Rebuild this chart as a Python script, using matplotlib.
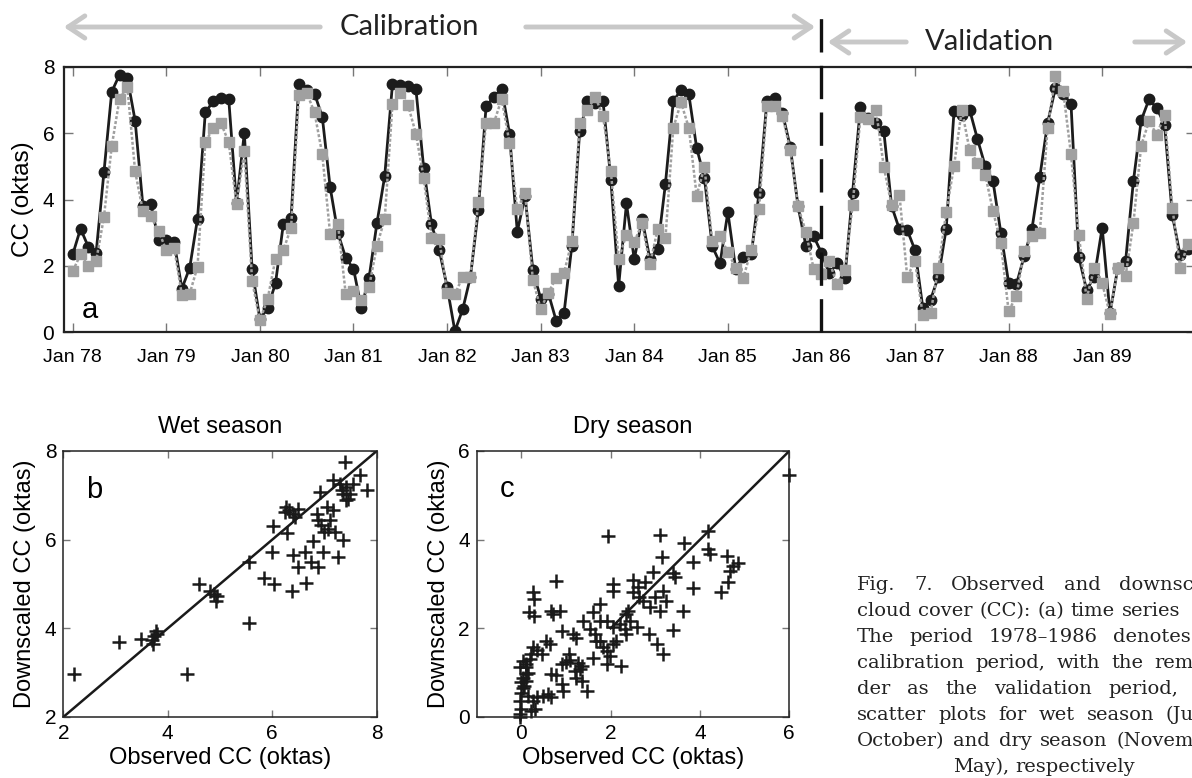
import numpy as np
import matplotlib
matplotlib.use('Agg')
import matplotlib.pyplot as plt
from matplotlib.patches import FancyArrowPatch
from matplotlib.transforms import blended_transform_factory

plt.rcParams['font.family'] = ['Liberation Sans', 'DejaVu Sans']

# monthly cloud cover, Jan 1978 .. Dec 1989
obs_cc = [2.34, 3.12, 2.57, 2.39, 4.82, 7.25, 7.77, 7.67, 6.38, 3.80, 3.87, 2.79,
          2.79, 2.71, 1.31, 1.94, 3.42, 6.63, 6.96, 7.07, 7.04, 3.88, 6.01, 1.89,
          0.38, 0.73, 1.47, 3.25, 3.45, 7.50, 7.32, 7.20, 6.49, 4.38, 2.99, 2.24,
          1.91, 0.73, 1.64, 3.28, 4.70, 7.49, 7.47, 7.44, 7.34, 4.95, 3.25, 2.47,
          1.37, 0.03, 0.68, 1.67, 3.67, 6.81, 7.10, 7.34, 5.99, 3.03, 4.10, 1.87,
          1.01, 1.16, 0.33, 0.58, 2.61, 6.06, 6.96, 6.91, 6.96, 4.60, 1.39, 3.88,
          2.19, 3.42, 2.21, 2.51, 4.48, 6.96, 7.32, 7.17, 5.56, 4.65, 2.59, 2.07,
          3.62, 1.91, 2.27, 2.34, 4.20, 6.96, 7.07, 6.61, 5.59, 3.80, 2.61, 2.89,
          2.39, 1.77, 2.07, 1.64, 4.20, 6.79, 6.46, 6.31, 6.06, 3.80, 3.10, 3.08,
          2.47, 0.73, 0.98, 1.67, 3.12, 6.66, 6.56, 6.71, 5.83, 5.01, 4.55, 3.00,
          1.49, 1.44, 2.29, 3.12, 4.68, 6.31, 7.37, 7.19, 6.89, 2.27, 1.27, 1.67,
          3.15, 0.56, 1.94, 2.14, 4.55, 6.39, 7.02, 6.76, 6.26, 3.52, 2.31, 2.50]
down_cc = [1.84, 2.34, 1.99, 2.14, 3.47, 5.61, 7.04, 7.40, 4.85, 3.65, 3.50, 3.05,
           2.47, 2.54, 1.11, 1.16, 1.97, 5.73, 6.16, 6.31, 5.73, 3.85, 5.46, 1.54,
           0.35, 1.01, 2.21, 2.47, 3.15, 7.14, 7.22, 6.63, 5.36, 2.97, 3.27, 1.16,
           1.24, 0.98, 1.36, 2.61, 3.40, 6.89, 7.22, 6.84, 5.99, 4.65, 2.84, 2.81,
           1.19, 1.14, 1.67, 1.67, 3.92, 6.31, 6.31, 7.04, 5.71, 3.70, 4.20, 1.57,
           0.70, 1.19, 1.64, 1.79, 2.74, 6.31, 6.71, 7.10, 6.51, 4.85, 2.21, 2.94,
           2.71, 3.28, 2.04, 3.10, 2.84, 6.16, 6.93, 6.16, 4.12, 4.98, 2.74, 2.89,
           2.41, 1.94, 1.64, 2.49, 3.72, 6.81, 6.81, 6.53, 5.49, 3.80, 3.02, 1.91,
           1.74, 2.14, 1.44, 1.87, 3.82, 6.49, 6.43, 6.71, 4.98, 3.82, 4.15, 1.67,
           2.14, 0.50, 0.58, 1.94, 3.62, 5.01, 6.71, 5.49, 5.11, 4.75, 3.65, 2.69,
           0.63, 1.09, 2.44, 2.89, 3.00, 6.16, 7.72, 7.27, 5.36, 2.94, 1.01, 1.94,
           1.47, 0.53, 1.94, 1.69, 3.28, 5.63, 6.36, 5.96, 6.56, 3.75, 1.94, 2.67]
year_labels = ['Jan 78', 'Jan 79', 'Jan 80', 'Jan 81', 'Jan 82', 'Jan 83',
               'Jan 84', 'Jan 85', 'Jan 86', 'Jan 87', 'Jan 88', 'Jan 89']
split_month = 96  # Jan 86

wet_obs = [2.21, 3.07, 3.48, 3.69, 3.73, 3.77, 3.80, 3.71, 4.36, 4.60, 4.81, 4.89,
           4.95, 4.93, 5.55, 5.56, 5.85, 6.00, 6.04, 6.01, 6.28, 6.38, 6.39, 6.49,
           6.64, 6.62, 6.75, 6.88, 6.78, 6.97, 7.26, 7.36, 6.24, 6.33, 6.40, 6.49,
           6.27, 6.43, 6.85, 6.91, 6.88, 6.94, 6.99, 7.07, 7.10, 7.17, 7.04, 7.20,
           7.17, 7.39, 7.42, 7.49, 7.36, 7.55, 7.46, 7.68, 7.81, 7.33, 7.42, 7.30]
wet_down = [2.96, 3.69, 3.77, 3.73, 3.82, 3.94, 3.88, 3.65, 2.96, 5.01, 4.84, 4.78,
            4.72, 4.62, 4.11, 5.50, 5.14, 5.72, 4.99, 6.30, 6.14, 4.84, 5.65, 5.38,
            5.02, 5.72, 5.50, 5.38, 5.98, 5.72, 5.61, 6.00, 6.62, 6.66, 6.59, 6.70,
            6.74, 6.51, 6.59, 7.08, 6.44, 6.32, 6.17, 6.25, 6.44, 6.66, 6.74, 6.17,
            7.34, 7.75, 7.19, 7.04, 7.04, 7.26, 6.92, 7.45, 7.11, 7.11, 6.89, 7.26]

dry_obs = [6.00, 3.10, 1.93, 4.19, 3.64, 3.14, 3.85, 4.19, 4.22, 4.60, 4.86, 4.67,
           4.63, 4.48, 4.75, 3.85, 3.40, 3.44, 2.95, 0.78, 0.25, 0.28, 0.16, 0.28,
           0.67, 0.71, 0.86, 2.06, 2.06, 2.50, 2.62, 2.77, 3.18, 2.50, 2.64, 2.73,
           2.88, 3.10, 3.25, 2.99, 3.61, 3.40, 2.86, 3.03, 3.18, 1.76, 1.61, 1.38,
           1.76, 1.91, 2.06, 2.20, 2.35, 2.39, 2.43, 2.32, 2.35, 2.58, 1.16, 1.23,
           0.92, 1.53, 1.64, 1.68, 1.83, 1.91, 1.98, 2.06, 2.13, 1.61, 1.91, 2.24,
           1.76, 0.56, 0.64, 0.26, 0.34, 0.47, 1.07, 1.08, 1.27, 1.35, 1.20, 1.31,
           1.01, 0.90, 1.35, 1.46, 1.23, 0.67, 0.78, 0.90, 0.93, 0.60, 0.49, 0.67,
           0.34, 0.26, 0.30, 0.22, -0.04, 0.00, -0.04, 0.00, 0.07, 0.04, -0.04, 0.11,
           0.19, 0.11, 0.15, 0.11, 0.04, 0.15, 0.04, 0.22, 0.10, 0.00, -0.04]
dry_down = [5.45, 4.11, 4.09, 4.20, 3.93, 3.62, 3.49, 3.79, 3.68, 3.64, 3.47, 3.30,
            3.04, 2.81, 3.41, 2.92, 3.24, 3.15, 3.26, 3.06, 2.83, 2.66, 2.36, 2.28,
            2.40, 2.32, 2.40, 3.01, 2.85, 3.09, 2.94, 3.04, 2.85, 2.81, 2.71, 2.62,
            2.47, 2.40, 2.62, 2.70, 2.40, 1.96, 1.87, 1.64, 1.42, 2.56, 2.36, 2.17,
            2.17, 2.17, 2.02, 2.09, 2.32, 2.40, 2.17, 1.98, 1.87, 2.02, 1.87, 1.79,
            1.93, 1.98, 1.87, 1.72, 1.57, 1.49, 1.38, 1.64, 1.72, 1.34, 1.19, 1.15,
            1.72, 1.72, 1.64, 1.57, 1.51, 1.42, 1.42, 1.28, 1.21, 1.15, 1.04, 1.08,
            1.23, 1.19, 0.81, 0.59, 0.89, 0.96, 0.95, 0.74, 0.59, 0.51, 0.47, 0.44,
            0.44, 0.36, 0.17, 0.14, 0.00, 0.17, 0.36, 0.55, 0.70, 0.89, 1.12, 1.12,
            1.30, 1.19, 1.00, 0.81, 0.66, 0.47, 1.27, 1.42, 0.96, 0.78, 0.06]

caption_lines = ['Fig. 7. Observed and downsc',
                 'cloud cover (CC): (a) time series',
                 'The period 1978\u20131986 denotes',
                 'calibration period, with the rem',
                 'der as the validation period,',
                 'scatter plots for wet season (Ju',
                 'October) and dry season (Novem',
                 'May), respectively']
# left / right ends of each justified line (pixels), None = not justified
caption_left = [857, 857, 857, 857, 857, 857, 857, 953]
caption_right = [1194, 1180, 1191, 1194, 1178, 1194, 1194, None]
caption_y = [583, 609, 635, 661, 687, 713, 739, 765]

W, H = 1192, 778
fig = plt.figure(figsize=(W / 100, H / 100), dpi=100)


def box(l, t, r, b):
    return [l / W, 1 - b / H, (r - l) / W, (b - t) / H]


def style(a, size, length, lw):
    a.tick_params(direction='in', top=True, right=True, length=length,
                  width=1, color='#777777', labelsize=size, pad=5)
    for s in a.spines.values():
        s.set_linewidth(lw)
        s.set_color('#222222')


# (a) time series
ax = fig.add_axes(box(64, 67, 1195, 332))
months = np.arange(len(obs_cc))
ax.plot(months, obs_cc, '-o', color='#1c1c1c', lw=2, ms=7.5, zorder=2)
ax.plot(months, down_cc, ls=(0, (1.2, 0.8)), color='#a0a0a0', lw=1.8,
        marker='s', ms=6.5, zorder=3)
ax.set_xlim(-1.12, 143.9)
ax.set_ylim(0, 8)
ax.set_xticks(np.arange(0, 12 * len(year_labels), 12))
ax.set_xticklabels(year_labels)
ax.set_yticks([0, 2, 4, 6, 8])
style(ax, 15, 6.5, 1.6)
ax.tick_params(axis='x', labelsize=14, pad=12)
ax.tick_params(axis='y', pad=7)
ax.set_ylabel('CC (oktas)', fontsize=17.5, labelpad=6)
ax.text(0.016, 0.053, 'a', transform=ax.transAxes, fontsize=21)

tr = blended_transform_factory(ax.transData, ax.transAxes)
ax.plot([split_month, split_month], [0, 1.22], transform=tr, clip_on=False,
        color='#111111', lw=2.4, dashes=(10, 4), zorder=5)


def arrow(x_tail, x_tip, y):
    fig.add_artist(FancyArrowPatch((x_tail / W, 1 - y / H), (x_tip / W, 1 - y / H),
                                   transform=fig.transFigure, color='#c8c8c8', lw=3.5,
                                   arrowstyle='->,head_length=0.6,head_width=0.4',
                                   mutation_scale=20))


arrow(323, 61, 27)
arrow(523, 818, 27)
arrow(909, 825, 42)
arrow(1132, 1190, 42)
fig.text(409 / W, 1 - 27 / H, 'Calibration', ha='center', va='center',
         fontsize=21, family='Lato', color='#222222')
fig.text(990 / W, 1 - 42 / H, 'Validation', ha='center', va='center',
         fontsize=21, family='Lato', color='#222222')

# (b) wet season
axb = fig.add_axes(box(63.3, 451, 376.7, 717))
axb.plot(wet_obs, wet_down, '+', ms=10, mew=1.8, color='#1a1a1a')
axb.plot([2, 8], [2, 8], color='#1a1a1a', lw=1.8)
axb.set_xlim(2, 8)
axb.set_ylim(2, 8)
axb.set_xticks([2, 4, 6, 8])
axb.set_yticks([2, 4, 6, 8])
style(axb, 15, 5, 1.1)
axb.set_title('Wet season', fontsize=17, pad=13)
axb.set_xlabel('Observed CC (oktas)', fontsize=17, labelpad=3)
axb.set_ylabel('Downscaled CC (oktas)', fontsize=17, labelpad=6)
axb.text(0.073, 0.823, 'b', transform=axb.transAxes, fontsize=21)

# (c) dry season
axc = fig.add_axes(box(476.7, 451, 789.3, 717))
axc.plot(dry_obs, dry_down, '+', ms=10, mew=1.8, color='#1a1a1a', clip_on=False)
axc.plot([2, 6], [2, 6], color='#1a1a1a', lw=1.8)
axc.set_xlim(-1, 6)
axc.set_ylim(0, 6)
axc.set_xticks([0, 2, 4, 6])
axc.set_yticks([0, 2, 4, 6])
style(axc, 15, 5, 1.1)
axc.set_title('Dry season', fontsize=17, pad=13)
axc.set_xlabel('Observed CC (oktas)', fontsize=17, labelpad=3)
axc.set_ylabel('Downscaled CC (oktas)', fontsize=17, labelpad=6)
axc.text(0.074, 0.827, 'c', transform=axc.transAxes, fontsize=21)

# caption, justified word by word
rend = fig.canvas.get_renderer()
for line, x0, x1, y in zip(caption_lines, caption_left, caption_right, caption_y):
    words = line.split(' ')
    texts = [fig.text(0, 1 - y / H, w, ha='left', va='center_baseline',
                      fontsize=14, family='DejaVu Serif', color='#222222')
             for w in words]
    widths = [t.get_window_extent(renderer=rend).width for t in texts]
    space = fig.text(0, 0, 'a a', fontsize=14, family='DejaVu Serif')
    gap = space.get_window_extent(renderer=rend).width - \
        2 * fig.text(0, 0, 'a', fontsize=14, family='DejaVu Serif').get_window_extent(renderer=rend).width
    for t in fig.texts[-2:]:
        t.remove()
    if x1 is not None and len(words) > 1:
        gap = (x1 - x0 - sum(widths)) / (len(words) - 1)
    x = x0
    for t, w in zip(texts, widths):
        t.set_x(x / W)
        x += w + gap

fig.savefig('out.png', dpi=100)
